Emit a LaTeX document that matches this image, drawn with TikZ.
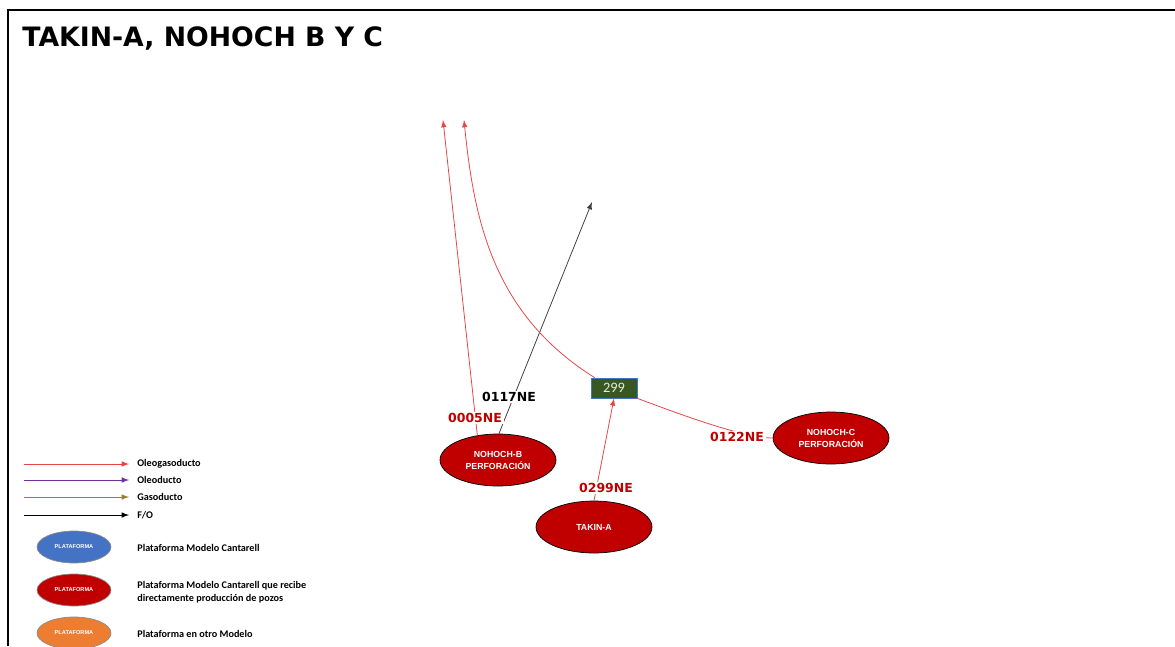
\documentclass[tikz,border=0pt]{standalone}
\usepackage{fontspec}
\usetikzlibrary{shapes.geometric}

\newfontfamily\verdfont{DejaVu Sans}
\newfontfamily\arifont{Liberation Sans}
\newfontfamily\calfont{Carlito}

\definecolor{platred}{RGB}{192,0,0}
\definecolor{pipered}{RGB}{228,70,70}
\definecolor{pipepurple}{RGB}{112,48,160}
\definecolor{pipegold}{RGB}{160,125,40}
\definecolor{platblue}{RGB}{68,114,196}
\definecolor{platorange}{RGB}{237,125,49}
\definecolor{boxgreen}{RGB}{56,87,35}
\definecolor{boxtext}{RGB}{226,239,218}

\tikzset{
  plat/.style={ellipse, draw=black, thin, fill=platred, text=white,
    minimum width=2.32cm, minimum height=1.04cm, inner sep=0pt, align=center,
    font=\arifont\bfseries\fontsize{5}{6.8}\selectfont},
  legplat/.style={ellipse, draw=black!45, thin, text=white,
    minimum width=1.48cm, minimum height=0.64cm, inner sep=0pt,
    font=\arifont\bfseries\fontsize{3.2}{4}\selectfont},
  pipe/.style={->, >=latex, line width=0.45pt},
  ductlabel/.style={fill=white, inner sep=1pt,
    font=\verdfont\bfseries\fontsize{7.1}{8}\selectfont},
  legtext/.style={anchor=west, align=left, inner sep=0pt,
    font=\calfont\bfseries\fontsize{5.8}{7.4}\selectfont},
}

\begin{document}
\begin{tikzpicture}[x=0.02cm, y=-0.02cm]

\useasboundingbox (0,0) rectangle (1175,646);
\draw[line width=1.6pt] (8,646) -- (8,10) -- (1175,10);

\node[anchor=base west, inner sep=0pt, font=\verdfont\bfseries\fontsize{15.2}{18}\selectfont]
  (title) at (22,46) {TAKIN-A, NOHOCH B Y C};

% platforms
\node[plat] (nohochB) at (498,460) {NOHOCH-B\\PERFORACIÓN};
\node[plat] (takinA)  at (594,527) {TAKIN-A};
\node[plat] (nohochC) at (831,438) {NOHOCH-C\\PERFORACIÓN};

\node[draw=platblue, fill=boxgreen, text=boxtext, minimum width=0.92cm,
  minimum height=0.4cm, inner sep=0pt, font=\calfont\fontsize{8.2}{9}\selectfont]
  (p299) at (614,388) {299};

% free ends
\coordinate (c1) at (443,120);
\coordinate (c2) at (592,202);
\coordinate (c3) at (464,120);

% ducts
\draw[pipe, pipered] (nohochB.130) -- (c1);
\draw[pipe, black!75] (nohochB.88) -- (c2);
\draw[pipe, pipered] (takinA.north) -- (p299.south);
\draw[pipe, pipered] ([xshift=0.08cm]p299.north west)
  .. controls (493,314) and (474,220) .. (c3);
\draw[pipered, line width=0.45pt] (nohochC.west)
  .. controls (745,438) and (687,417) .. (p299.south east);

% duct labels
\node[ductlabel, text=platred] (l0005) at (475,418) {0005NE};
\node[ductlabel, text=black]   (l0117) at (509,397) {0117NE};
\node[ductlabel, text=platred] (l0299) at (606,488) {0299NE};
\node[ductlabel, text=platred] (l0122) at (737,437) {0122NE};

% -------- legend -----------
\coordinate (g1) at (24,464);  \coordinate (h1) at (129,464);
\coordinate (g2) at (24,480);  \coordinate (h2) at (129,480);
\coordinate (g3) at (24,497);  \coordinate (h3) at (129,497);
\coordinate (g4) at (24,515);  \coordinate (h4) at (129,515);
\draw[pipe, pipered]    (g1) -- (h1);
\draw[pipe, pipepurple] (g2) -- (h2);
\draw[pipe, pipegold]   (g3) -- (h3);
\draw[pipe, black]      (g4) -- (h4);
\node[legtext] (t1) at (137,464) {Oleogasoducto};
\node[legtext] (t2) at (137,480) {Oleoducto};
\node[legtext] (t3) at (137,497) {Gasoducto};
\node[legtext] (t4) at (137,515) {F/O};

\node[legplat, fill=platblue]   (e1) at (74,547) {PLATAFORMA};
\node[legplat, fill=platred]    (e2) at (74,590) {PLATAFORMA};
\node[legplat, fill=platorange] (e3) at (74,633) {PLATAFORMA};
\node[legtext] (t5) at (137,548) {Plataforma Modelo Cantarell};
\node[legtext] (t6) at (137,592) {Plataforma Modelo Cantarell que recibe\\directamente producción de pozos};
\node[legtext] (t7) at (137,634) {Plataforma en otro Modelo};

\end{tikzpicture}
\end{document}
